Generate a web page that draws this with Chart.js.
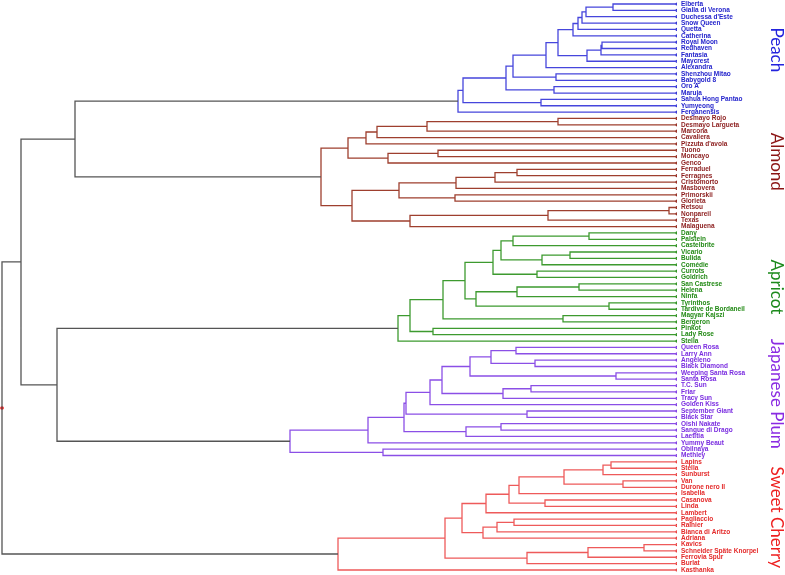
<!DOCTYPE html>
<html>
<head>
<meta charset="utf-8">
<script src="https://cdn.jsdelivr.net/npm/chart.js@4.4.0/dist/chart.umd.min.js"></script>
<style>
  html, body { margin: 0; padding: 0; background: #fff; }
  #chart { display: block; }
</style>
</head>
<body>
<canvas id="chart" width="785" height="575"></canvas>
<script>
// leaf names, top to bottom, one list per crop
const peachNames = ["Elberta", "Gialla di Verona", "Duchessa d'Este", "Snow Queen", "Quetta", "Catherina", "Royal Moon", "Redhaven", "Fantasia", "Maycrest", "Alexandra", "Shenzhou Mitao", "Babygold 8", "Oro A", "Maruja", "Sahua Hong Pantao", "Yumyeong", "Ferganensis"];
const almondNames = ["Desmayo Rojo", "Desmayo Largueta", "Marcona", "Cavaliera", "Pizzuta d'avola", "Tuono", "Moncayo", "Genco", "Ferraduel", "Ferragnes", "Cristomorto", "Masbovera", "Primorskii", "Glorieta", "Retsou", "Nonpareil", "Texas", "Malaguena"];
const apricotNames = ["Dany", "Palstein", "Castelbrite", "Vicario", "Bulida", "Comédie", "Currots", "Goldrich", "San Castrese", "Helena", "Ninfa", "Tyrinthos", "Tardive de Bordaneil", "Magyar Kajszi", "Bergeron", "Pinkot", "Lady Rose", "Stella"];
const plumNames = ["Queen Rosa", "Larry Ann", "Angeleno", "Black Diamond", "Weeping Santa Rosa", "Santa Rosa", "T.C. Sun", "Friar", "Tracy Sun", "Golden Kiss", "September Giant", "Black Star", "Oishi Nakate", "Sangue di Drago", "Laetitia", "Yummy Beaut", "Obilnaya", "Methley"];
const cherryNames = ["Lapins", "Stella", "Sunburst", "Van", "Durone nero II", "Isabella", "Casanova", "Linda", "Lambert", "Pagliaccio", "Rainier", "Bianca di Aritzo", "Adriana", "Kavics", "Schneider Späte Knorpel", "Ferrovia Spur", "Burlat", "Kasthanka"];

const cropTitles = ["Peach", "Almond", "Apricot", "Japanese Plum", "Sweet Cherry"];

// merges as [height, left, right], leaves are indices into the name list
const peachTree = [2.19, [2.14, [1.71, [1.64, [1.31, [1.19, [1.04, [0.99, [0.95, [0.91, [0.64, 0, 1], 2], 3], 4], 5], [0.90, [0.76, [0.75, 6, 7], 8], 9]], 10], [1.21, 11, 12]], [1.23, 13, 14]], [1.36, 15, 16]], 17];
const almondTree = [3.56, [3.29, [3.11, [3.00, [2.50, [1.19, 0, 1], 2], 3], 4], [2.89, [2.39, 5, 6], 7]], [3.25, [2.78, [2.21, [1.82, [1.60, 8, 9], 10], 11], [2.22, 12, 13]], [2.67, [1.29, [0.08, 14, 15], 16], 17]]];
const apricotTree = [2.79, [2.67, [2.34, [2.12, [1.84, [1.76, [1.64, [0.88, 0, 1], 2], [1.35, [1.07, 3, 4], 5]], [1.40, 6, 7]], [2.01, [1.60, [0.98, 8, 9], 10], [0.68, 11, 12]]], [1.14, 13, 14]], [2.44, 15, 16]], 17];
const plumTree = [3.87, [3.09, [2.73, [2.71, [2.47, [2.35, [2.07, [1.86, [1.61, 0, 1], [1.42, 2, 3]], [0.61, 4, 5]], [1.74, [1.46, 6, 7], 8]], 9], [1.50, 10, 11]], [2.11, [1.76, 12, 13], 14]], 15], [2.94, 16, 17]];
const cherryTree = [3.39, [2.32, [2.15, [1.91, [1.68, [1.58, [1.13, [0.74, [0.66, 0, 1], 2], [0.54, 3, 4]], 5], [1.32, 6, 7]], 8], [1.94, [1.80, [1.63, 9, 10], 11], 12]], [1.50, [0.89, [0.33, 13, 14], 15], 16]], 17];

// (Peach,Almond), (Apricot,Plum), both of those, then Sweet Cherry
const topHeights = [6.02, 6.20, 6.56, 6.75];

// styles
const lineColors = ["#4646dc", "#9e3f2e", "#3d9a2f", "#8b4fe6", "#ee5a5a"];
const textColors = ["#2424cc", "#8b1c1c", "#238a16", "#7a2de0", "#e42a2a"];
const titleColors = ["#2323dd", "#8b1414", "#1c8a1c", "#8a2be2", "#ee2020"];
const titleAt = [7.2, 24.8, 44.5, 61.3, 80.7];
const treeColor = "#555555";

const groups = [peachNames, almondNames, apricotNames, plumNames, cherryNames];
const trees = [peachTree, almondTree, apricotTree, plumTree, cherryTree];
const leafNames = groups.flat();
const offsets = [];
groups.reduce((n, g) => { offsets.push(n); return n + g.length; }, 0);

function groupOf(i) {
  let g = 0;
  while (g < offsets.length - 1 && i >= offsets[g + 1]) g++;
  return g;
}

// turn the merges into elbow paths, gaps split the segments
const groupSegs = groups.map(() => []);
const topSegs = [];

function elbow(out, h, a, b) {
  out.push({x: a.h, y: a.y}, {x: h, y: a.y}, {x: h, y: b.y}, {x: b.h, y: b.y}, {x: null, y: null});
  return {h: h, y: (a.y + b.y) / 2};
}

function walk(node, off, out) {
  if (typeof node === 'number') return {h: 0, y: off + node};
  const a = walk(node[1], off, out);
  const b = walk(node[2], off, out);
  return elbow(out, node[0], a, b);
}

const tops = trees.map((t, g) => walk(t, offsets[g], groupSegs[g]));
const peachAlmond = elbow(topSegs, topHeights[0], tops[0], tops[1]);
const apricotPlum = elbow(topSegs, topHeights[1], tops[2], tops[3]);
const upper = elbow(topSegs, topHeights[2], peachAlmond, apricotPlum);
const root = elbow(topSegs, topHeights[3], upper, tops[4]);

const datasets = [];
datasets.push({
  data: topSegs, showLine: true, spanGaps: false, borderColor: treeColor,
  borderWidth: 1.3, pointRadius: 0
});
groupSegs.forEach((segs, g) => {
  datasets.push({
    data: segs, showLine: true, spanGaps: false, borderColor: lineColors[g],
    borderWidth: 1.3, pointRadius: 0
  });
});
groups.forEach((names, g) => {
  datasets.push({
    data: names.map((n, i) => ({x: 0, y: offsets[g] + i})),
    showLine: false, pointRadius: 1.6, borderWidth: 0,
    pointBackgroundColor: textColors[g]
  });
});
datasets.push({
  data: [{x: root.h, y: root.y}], showLine: false, pointRadius: 1.8,
  borderWidth: 0, pointBackgroundColor: "#ff0000"
});

// rotated crop names on the right
const cropTitlePlugin = {
  id: 'cropTitles',
  afterDraw(chart) {
    const ctx = chart.ctx;
    const yScale = chart.scales.y;
    ctx.save();
    ctx.font = '17px Lato';
    ctx.textAlign = 'center';
    ctx.textBaseline = 'middle';
    cropTitles.forEach((t, g) => {
      ctx.save();
      ctx.translate(chart.width - 9, yScale.getPixelForValue(titleAt[g]));
      ctx.rotate(Math.PI / 2);
      ctx.fillStyle = titleColors[g];
      ctx.fillText(t, 0, 0);
      ctx.restore();
    });
    ctx.restore();
  }
};

new Chart(document.getElementById('chart'), {
  type: 'scatter',
  data: { datasets: datasets },
  plugins: [cropTitlePlugin],
  options: {
    responsive: false,
    animation: false,
    layout: { padding: 0, autoPadding: false },
    plugins: { legend: { display: false }, tooltip: { enabled: false } },
    scales: {
      x: { type: 'linear', reverse: true, min: 0, max: 6.77, display: false },
      y: {
        type: 'linear', position: 'right', reverse: true, min: -0.63, max: 89.79,
        afterBuildTicks: s => { s.ticks = leafNames.map((n, i) => ({value: i})); },
        afterFit: s => { s.width = 108; s.paddingTop = 0; s.paddingBottom = 0; },
        grid: { display: false, drawTicks: false },
        border: { display: false },
        ticks: {
          autoSkip: false,
          padding: 4,
          callback: v => leafNames[v],
          color: c => textColors[groupOf(c.tick ? c.tick.value : c.index)],
          font: { family: 'Liberation Sans', size: 6.5, weight: 'bold' }
        }
      }
    }
  }
});
</script>
</body>
</html>
